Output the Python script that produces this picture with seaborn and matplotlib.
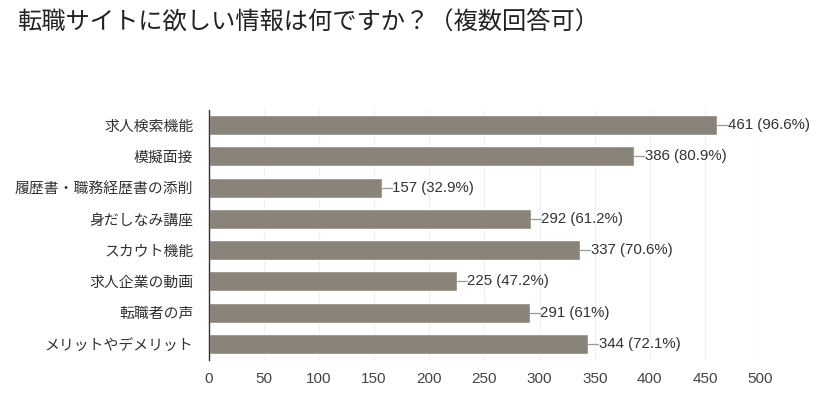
import matplotlib
matplotlib.use("Agg")
import matplotlib.pyplot as plt
import seaborn as sns
import pandas as pd
from matplotlib import font_manager

categories = ["求人検索機能", "模擬面接", "履歴書・職務経歴書の添削", "身だしなみ講座",
              "スカウト機能", "求人企業の動画", "転職者の声", "メリットやデメリット"]
counts = [461, 386, 157, 292, 337, 225, 291, 344]
percents = ["96.6%", "80.9%", "32.9%", "61.2%", "70.6%", "47.2%", "61%", "72.1%"]
xticks = [0, 50, 100, 150, 200, 250, 300, 350, 400, 450, 500]
title = "転職サイトに欲しい情報は何ですか？（複数回答可）"

sns.set_theme(style="white")
plt.rcParams['font.family'] = ['Noto Sans CJK JP', 'DejaVu Sans']

names = {f.name for f in font_manager.fontManager.ttflist}
numfont = 'Liberation Sans Narrow' if 'Liberation Sans Narrow' in names else 'Liberation Sans'

df = pd.DataFrame({"cat": categories, "count": counts})

fig = plt.figure(figsize=(8.2, 3.98), dpi=100)
ax = fig.add_axes([0.2545, 0.0955, 0.6725, 0.628])

sns.barplot(data=df, y="cat", x="count", orient="h", color="#8a8379",
            saturation=1, width=0.64, ax=ax)

ax.set_xlim(0, 500)
ax.set_ylim(7.51, -0.48)
ax.set_xticks(xticks)
ax.set_xticklabels([str(t) for t in xticks], fontfamily=numfont, fontsize=11, color="#444444")
ax.set_xlabel("")
ax.set_ylabel("")
ax.tick_params(axis="y", labelsize=10.7, labelcolor="#333333", length=0, pad=11)
ax.tick_params(axis="x", length=0, pad=9)
ax.grid(axis="x", color="#f0f0f0", linewidth=0.9)
ax.set_axisbelow(True)
for s in ["top", "right", "bottom"]:
    ax.spines[s].set_visible(False)
ax.spines["left"].set_color("#333333")
ax.spines["left"].set_linewidth(1.0)

for i, (c, p) in enumerate(zip(counts, percents)):
    ax.plot([c, c + 9], [i, i], color="#999999", linewidth=0.9)
    ax.text(c + 9.5, i, f"{c} ({p})", va="center", ha="left",
            fontsize=10.8, color="#333333", fontfamily=numfont)

fig.text(0.021, 0.945, title, fontsize=17.5, color="#222222", va="center", ha="left")

fig.savefig("out.png", dpi=100, facecolor="white")
